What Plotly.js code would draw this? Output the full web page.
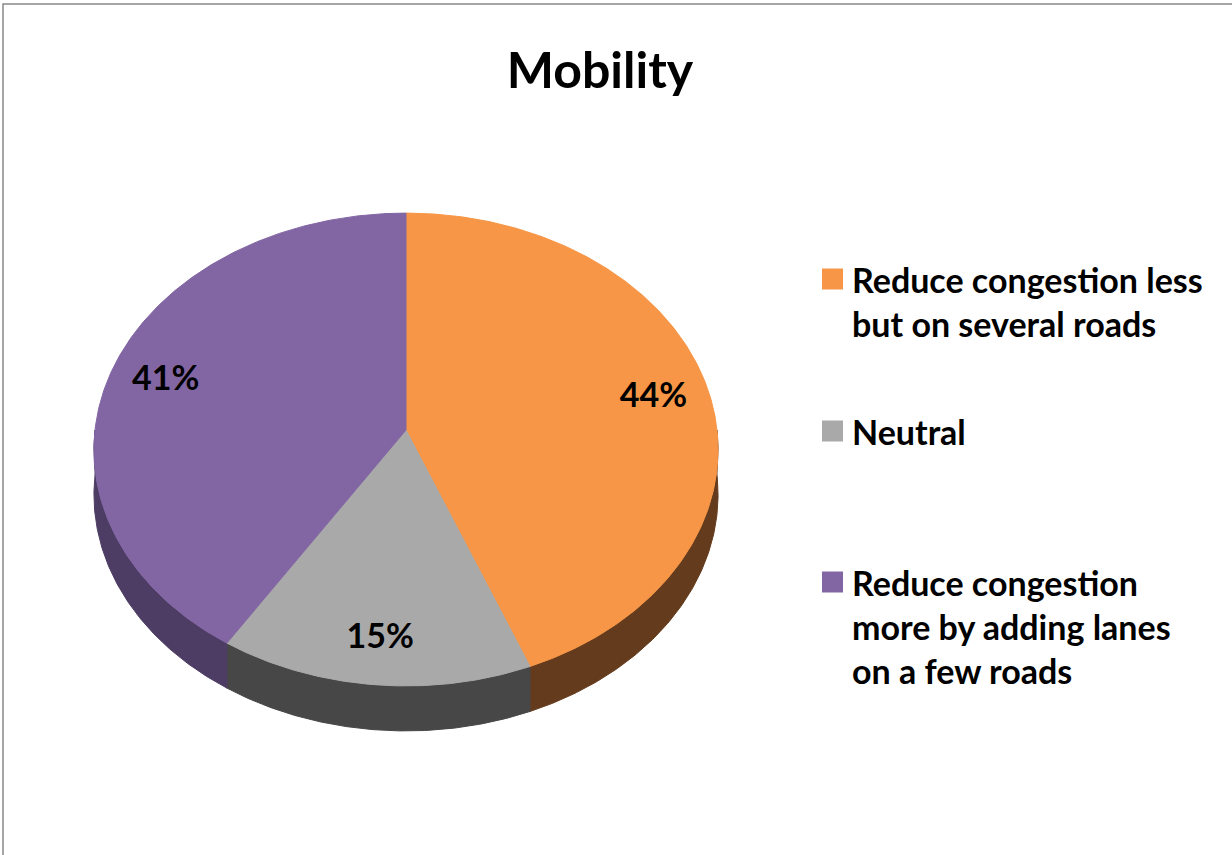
<!DOCTYPE html>
<html>
<head>
<meta charset="utf-8">
<script src="https://cdn.plot.ly/plotly-3.0.1.min.js"></script>
<style>html,body{margin:0;padding:0;background:#fff;}#chart{width:1232px;height:855px;}</style>
</head>
<body>
<div id="chart"></div>
<script>
// ---- data ----
const chartTitle = 'Mobility';
const categories = ['Reduce congestion less<br>but on several roads', 'Neutral', 'Reduce congestion<br>more by adding lanes<br>on a few roads'];
const values = [44, 15, 41];
const topColors = ['#F79646', '#A9A9A9', '#8266A4'];
const sideColors = ['#643B1C', '#474747', '#4D3D64'];

// ---- geometry (layout only): perspective-projected 3D pie ----
const apexX = 406, apexY = 430;   // projected pie centre
const F = 311;                    // projected radius (horizontal)
const sinT = 0.755, cosT = 0.655; // tilt
const k = 0.126;                  // perspective strength (R / camera distance)
const depth = 45;
const FONT = 'Lato, "Open Sans", sans-serif';

function proj(deg, r, dy) {
  const t = deg * Math.PI / 180;
  const den = 1 + k * r * cosT * Math.cos(t);
  return [apexX + F * r * Math.sin(t) / den, apexY - F * sinT * r * Math.cos(t) / den + (dy || 0)];
}

const total = values.reduce((s, v) => s + v, 0);
const sideTraces = [];
const topTraces = [];
const labelX = [], labelY = [], labelT = [];
let start = 0;
values.forEach((v, i) => {
  const span = v / total * 360;
  const end = start + span;
  // side face (front half only)
  const s0 = Math.max(start, 90), s1 = Math.min(end, 270);
  if (s1 > s0) {
    const xs = [], ys = [];
    const steps = Math.max(2, Math.ceil((s1 - s0) * 2));
    for (let j = 0; j <= steps; j++) { const p = proj(s0 + (s1 - s0) * j / steps, 1); xs.push(p[0]); ys.push(p[1]); }
    for (let j = steps; j >= 0; j--) { const p = proj(s0 + (s1 - s0) * j / steps, 1, depth); xs.push(p[0]); ys.push(p[1]); }
    xs.push(xs[0]); ys.push(ys[0]);
    sideTraces.push({type: 'scatter', mode: 'lines', x: xs, y: ys, fill: 'toself', fillcolor: sideColors[i],
      line: {width: 1, color: sideColors[i]}, hoverinfo: 'skip', showlegend: false});
  }
  // top face
  const xs = [apexX], ys = [apexY];
  const steps = Math.max(2, Math.ceil(span * 2));
  for (let j = 0; j <= steps; j++) { const p = proj(start + span * j / steps, 1); xs.push(p[0]); ys.push(p[1]); }
  xs.push(apexX); ys.push(apexY);
  topTraces.push({type: 'scatter', mode: 'lines', x: xs, y: ys, fill: 'toself', fillcolor: topColors[i],
    line: {width: 1, color: topColors[i]}, name: categories[i].replace(/<br>/g, ' '),
    hoverinfo: 'name', showlegend: false});
  // data label
  const mid = start + span / 2;
  const lp = proj(mid, 0.82);
  labelX.push(lp[0]);
  labelY.push(lp[1] + 4);
  labelT.push(Math.round(v / total * 100) + '%');
  start = end;
});

const labelTrace = {type: 'scatter', mode: 'text', x: labelX, y: labelY, text: labelT,
  textposition: 'middle center', textfont: {family: FONT, size: 34, color: '#000', weight: 'bold'},
  hoverinfo: 'skip', showlegend: false};

// ---- legend (manual, Excel-style spacing) ----
const legendFirstLine = [279, 431, 582];
const legendFont = 34;
const lineGap = legendFont * 1.3;
const annotations = [];
const shapes = [{type: 'rect', xref: 'x', yref: 'y', x0: 3, y0: 4, x1: 1260, y1: 900,
  line: {color: '#888888', width: 1.5}, fillcolor: 'rgba(0,0,0,0)', layer: 'below'}];
categories.forEach((c, i) => {
  const n = c.split('<br>').length;
  annotations.push({xref: 'x', yref: 'y', x: 850, y: legendFirstLine[i] + (n - 1) * lineGap / 2,
    xanchor: 'left', yanchor: 'middle', align: 'left', showarrow: false, text: c,
    font: {family: FONT, size: legendFont, color: '#000', weight: 'bold'}});
  shapes.push({type: 'rect', xref: 'x', yref: 'y', x0: 822, x1: 843,
    y0: legendFirstLine[i] - 10.5, y1: legendFirstLine[i] + 10.5, fillcolor: topColors[i], line: {width: 0}});
});

const layout = {
  width: 1232, height: 855,
  margin: {l: 0, r: 0, t: 0, b: 0},
  paper_bgcolor: '#fff', plot_bgcolor: '#fff',
  title: {text: chartTitle, x: 0.487, xanchor: 'center', y: 1 - 70 / 855, yanchor: 'middle',
    font: {family: FONT, size: 50, color: '#000', weight: 'bold'}},
  xaxis: {range: [0, 1232], visible: false, fixedrange: true},
  yaxis: {range: [855, 0], visible: false, fixedrange: true},
  showlegend: false,
  annotations: annotations,
  shapes: shapes
};

Plotly.newPlot('chart', sideTraces.concat(topTraces, [labelTrace]), layout, {displayModeBar: false, staticPlot: true});
</script>
</body>
</html>
